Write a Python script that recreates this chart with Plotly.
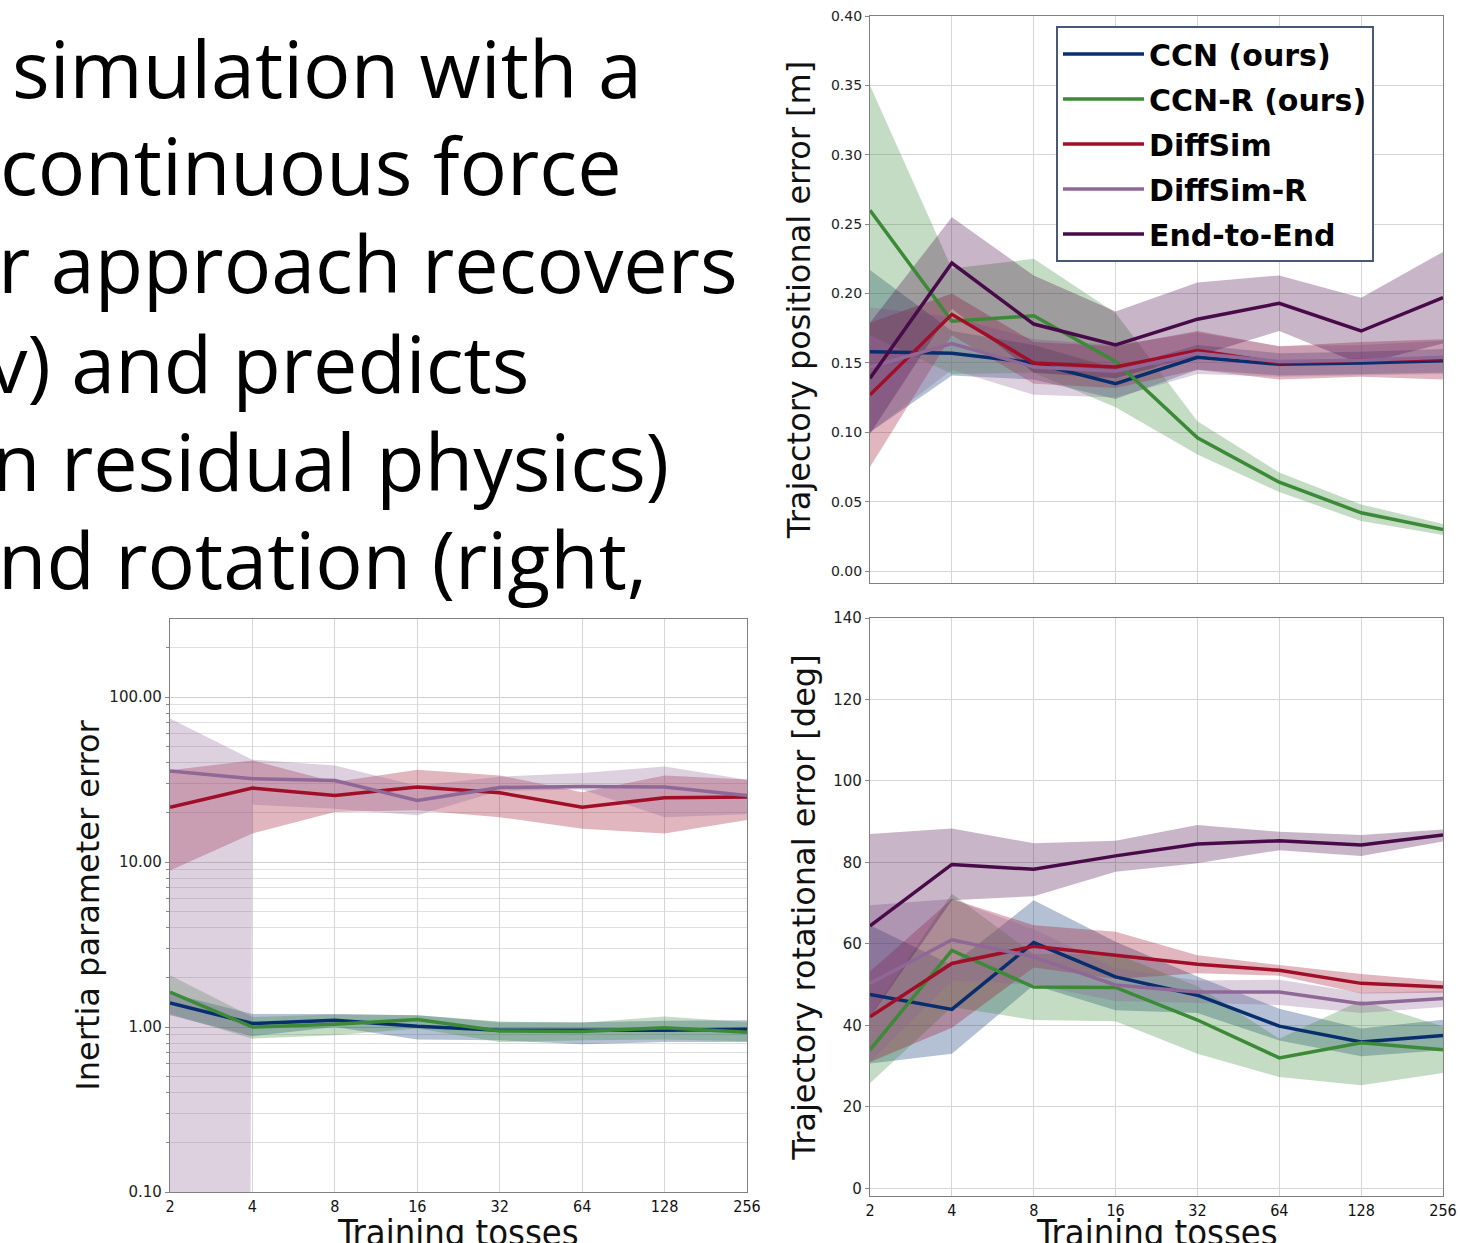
import plotly.graph_objects as go

# ---------------- data ----------------
tosses = [2, 4, 8, 16, 32, 64, 128, 256]
tick_labels = ["2", "4", "8", "16", "32", "64", "128", "256"]
methods = ["CCN (ours)", "CCN-R (ours)", "DiffSim", "DiffSim-R", "End-to-End"]

# Trajectory positional error [m]
pos_mean_ccn = [0.158, 0.157, 0.150, 0.135, 0.154, 0.149, 0.150, 0.1515]
pos_lo_ccn = [0.100, 0.141, 0.138, 0.124, 0.145, 0.141, 0.142, 0.143]
pos_hi_ccn = [0.217, 0.173, 0.163, 0.146, 0.163, 0.157, 0.158, 0.160]
pos_mean_ccnr = [0.260, 0.180, 0.184, 0.151, 0.096, 0.064, 0.042, 0.030]
pos_lo_ccnr = [0.170, 0.142, 0.143, 0.118, 0.084, 0.057, 0.036, 0.026]
pos_hi_ccnr = [0.350, 0.218, 0.225, 0.186, 0.108, 0.071, 0.048, 0.034]
pos_mean_diff = [0.127, 0.185, 0.150, 0.147, 0.159, 0.150, 0.152, 0.153]
pos_lo_diff = [0.075, 0.170, 0.135, 0.132, 0.145, 0.138, 0.140, 0.138]
pos_hi_diff = [0.179, 0.200, 0.165, 0.162, 0.173, 0.162, 0.165, 0.167]
pos_mean_diffr = [0.147, 0.164, 0.147, 0.144, 0.157, 0.151, 0.152, 0.154]
pos_lo_diffr = [0.100, 0.145, 0.127, 0.125, 0.142, 0.140, 0.141, 0.142]
pos_hi_diffr = [0.190, 0.183, 0.167, 0.163, 0.172, 0.162, 0.163, 0.166]
pos_mean_e2e = [0.139, 0.222, 0.178, 0.163, 0.1815, 0.193, 0.173, 0.197]
pos_lo_e2e = [0.099, 0.189, 0.143, 0.139, 0.155, 0.173, 0.149, 0.164]
pos_hi_e2e = [0.179, 0.255, 0.213, 0.187, 0.208, 0.213, 0.197, 0.230]

# Trajectory rotational error [deg]
rot_mean_ccn = [47.6, 43.9, 60.3, 51.9, 47.4, 39.8, 35.9, 37.5]
rot_lo_ccn = [30.6, 33.0, 49.9, 43.7, 43.0, 36.3, 32.4, 33.9]
rot_hi_ccn = [64.6, 54.8, 70.7, 60.5, 52.0, 44.1, 39.2, 41.4]
rot_mean_ccnr = [34.0, 58.4, 49.4, 49.3, 41.3, 32.0, 35.7, 34.0]
rot_lo_ccnr = [25.8, 44.5, 41.3, 41.0, 33.0, 27.3, 25.3, 28.3]
rot_hi_ccnr = [42.2, 72.3, 57.5, 57.6, 49.6, 36.7, 46.1, 39.7]
rot_mean_diff = [42.1, 55.2, 59.4, 57.2, 55.0, 53.5, 50.3, 49.4]
rot_lo_diff = [31.0, 39.4, 54.2, 51.4, 52.8, 52.2, 47.8, 48.0]
rot_hi_diff = [53.2, 71.0, 64.6, 63.0, 57.2, 54.8, 52.6, 50.9]
rot_mean_diffr = [50.3, 61.0, 56.8, 49.9, 48.2, 48.2, 45.3, 46.6]
rot_lo_diffr = [31.0, 51.0, 50.0, 46.0, 45.5, 45.0, 43.0, 44.5]
rot_hi_diffr = [69.5, 71.0, 63.6, 54.0, 51.0, 51.2, 48.0, 48.5]
rot_mean_e2e = [64.4, 79.5, 78.3, 81.6, 84.5, 85.3, 84.3, 86.7]
rot_lo_e2e = [42.0, 70.7, 71.7, 77.7, 79.8, 83.0, 81.6, 85.1]
rot_hi_e2e = [87.0, 88.3, 84.7, 85.3, 89.2, 87.5, 86.7, 88.1]

# Inertia parameter error (log scale); End-to-End has no inertia estimate
in_mean_ccn = [1.40, 1.05, 1.10, 1.01, 0.955, 0.955, 0.955, 0.97]
in_lo_ccn = [1.18, 0.88, 1.00, 0.84, 0.83, 0.785, 0.81, 0.81]
in_hi_ccn = [1.60, 1.20, 1.20, 1.18, 1.07, 1.07, 1.09, 1.10]
in_mean_ccnr = [1.63, 1.00, 1.04, 1.11, 0.946, 0.94, 0.99, 0.93]
in_lo_ccnr = [1.20, 0.85, 0.89, 0.98, 0.81, 0.83, 0.84, 0.82]
in_hi_ccnr = [2.06, 1.15, 1.19, 1.18, 1.08, 1.06, 1.16, 1.07]
in_mean_diff = [21.5, 28.1, 25.3, 28.5, 26.3, 21.5, 24.5, 24.8]
in_lo_diff = [8.9, 14.9, 20.1, 20.6, 18.7, 15.9, 14.9, 18.0]
in_hi_diff = [36.0, 41.3, 30.5, 36.3, 33.5, 26.5, 33.5, 31.6]
in_mean_diffr = [35.6, 32.0, 31.2, 23.6, 28.3, 28.7, 28.5, 25.3]
in_lo_diffr = [-2.8, 22.3, 21.0, 19.2, 27.0, 27.5, 18.7, 19.5]
in_hi_diffr = [74.0, 41.7, 38.5, 29.0, 32.9, 34.6, 37.9, 31.5]

pos_y_ticks = [0.0, 0.05, 0.10, 0.15, 0.20, 0.25, 0.30, 0.35, 0.40]
rot_y_ticks = [0, 20, 40, 60, 80, 100, 120, 140]
in_y_ticks = [0.1, 1, 10, 100]
in_y_labels = ["0.10", "1.00", "10.00", "100.00"]

x_title = "Training tosses"
text_lines = ["simulation with a", "continuous force", "r approach recovers",
              "v) and predicts", "n residual physics)", "nd rotation (right,"]

# ---------------- style ----------------
colors = {
    "CCN (ours)": (8, 46, 110),
    "CCN-R (ours)": (60, 138, 56),
    "DiffSim": (160, 14, 40),
    "DiffSim-R": (143, 104, 152),
    "End-to-End": (72, 10, 72),
}
def rgb(c, a=None):
    return f"rgb{c}" if a is None else f"rgba({c[0]},{c[1]},{c[2]},{a})"

W = 1460
H = 1300  # figure slightly taller than the 1243 px view; the bottom is cropped like the source
def px_x(a, b):
    return [a / W, b / W]
def px_y(top, bottom):
    return [1 - bottom / H, 1 - top / H]

pos_data = {
    "CCN (ours)": (pos_mean_ccn, pos_lo_ccn, pos_hi_ccn),
    "CCN-R (ours)": (pos_mean_ccnr, pos_lo_ccnr, pos_hi_ccnr),
    "DiffSim": (pos_mean_diff, pos_lo_diff, pos_hi_diff),
    "DiffSim-R": (pos_mean_diffr, pos_lo_diffr, pos_hi_diffr),
    "End-to-End": (pos_mean_e2e, pos_lo_e2e, pos_hi_e2e),
}
rot_data = {
    "CCN (ours)": (rot_mean_ccn, rot_lo_ccn, rot_hi_ccn),
    "CCN-R (ours)": (rot_mean_ccnr, rot_lo_ccnr, rot_hi_ccnr),
    "DiffSim": (rot_mean_diff, rot_lo_diff, rot_hi_diff),
    "DiffSim-R": (rot_mean_diffr, rot_lo_diffr, rot_hi_diffr),
    "End-to-End": (rot_mean_e2e, rot_lo_e2e, rot_hi_e2e),
}
in_data = {
    "CCN (ours)": (in_mean_ccn, in_lo_ccn, in_hi_ccn),
    "CCN-R (ours)": (in_mean_ccnr, in_lo_ccnr, in_hi_ccnr),
    "DiffSim": (in_mean_diff, in_lo_diff, in_hi_diff),
    "DiffSim-R": (in_mean_diffr, in_lo_diffr, in_hi_diffr),
}

fig = go.Figure()

def add_panel(data, xa, ya, legend, log=False):
    for m, (mean, lo, hi) in data.items():
        if log:
            lo = [v if v > 0 else 1e-100 for v in lo]  # clip non-positive for log axis
        fig.add_trace(go.Scatter(
            x=tosses + tosses[::-1], y=hi + lo[::-1], fill="toself",
            fillcolor=rgb(colors[m], 0.3), line=dict(width=0),
            mode="lines", hoverinfo="skip", showlegend=False,
            xaxis=xa, yaxis=ya, legendgroup=m))
    for m, (mean, lo, hi) in data.items():
        fig.add_trace(go.Scatter(
            x=tosses, y=mean, mode="lines", name=m,
            line=dict(color=rgb(colors[m]), width=3.5),
            showlegend=legend, legendgroup=m, xaxis=xa, yaxis=ya))

add_panel(pos_data, "x2", "y2", True)
add_panel(rot_data, "x3", "y3", False)
add_panel(in_data, "x", "y", False, log=True)

grid = "#d6d6d6"
spine = "#808080"
tickfont = dict(family="DejaVu Sans", size=14, color="#222")
xtickfont = dict(family="DejaVu Sans Condensed, DejaVu Sans", size=16, color="#111")
titlefont = dict(family="DejaVu Sans", size=32, color="#111")
xtitlefont = dict(family="DejaVu Sans Condensed, DejaVu Sans", size=36, color="#111")

def xaxis_common(dom, anchor, labels=True):
    return dict(domain=dom, anchor=anchor, type="log", automargin=False,
                range=[0.30103, 2.40824], tickvals=tosses, ticktext=tick_labels,
                showticklabels=labels,
                showgrid=True, gridcolor=grid, gridwidth=1,
                showline=True, linecolor=spine, linewidth=1.3, mirror=True,
                ticks="", tickfont=xtickfont, zeroline=False)

minor_vals = []
for dec in [0.1, 1, 10, 100]:
    for k in range(2, 10):
        minor_vals.append(dec * k)

fig.update_layout(
    width=W, height=H, margin=dict(l=0, r=0, t=0, b=0, autoexpand=False),
    paper_bgcolor="white", plot_bgcolor="white",
    xaxis=xaxis_common(px_x(170, 747), "y"),
    yaxis=dict(domain=px_y(619, 1192), anchor="x", type="log", automargin=False,
               range=[-1, 2.473], tickvals=in_y_ticks, ticktext=in_y_labels,
               showgrid=True, gridcolor="#cfcfcf", gridwidth=1,
               minor=dict(tickvals=minor_vals, showgrid=True, gridcolor="#dedede",
                          ticks="outside", ticklen=3, tickcolor="#888"),
               showline=True, linecolor=spine, linewidth=1.3, mirror=True,
               ticks="outside", ticklen=4, tickcolor="#888",
               tickfont=dict(family="DejaVu Sans", size=15, color="#222"),
               title=dict(text="Inertia parameter error", font=titlefont, standoff=0),
               zeroline=False),
    xaxis2=xaxis_common(px_x(870, 1443), "y2", labels=False),
    yaxis2=dict(domain=px_y(16, 583), anchor="x2", automargin=False,
                range=[-0.0086, 0.40], tickvals=pos_y_ticks,
                tickformat=".2f",
                showgrid=True, gridcolor=grid, gridwidth=1,
                showline=True, linecolor=spine, linewidth=1.3, mirror=True,
                ticks="outside", ticklen=4, tickcolor="#888",
                tickfont=tickfont,
                title=dict(text="Trajectory positional error [m]", font=titlefont, standoff=10),
                zeroline=False),
    xaxis3=xaxis_common(px_x(870, 1443), "y3"),
    yaxis3=dict(domain=px_y(618, 1196), anchor="x3", automargin=False,
                range=[-1.9, 140], tickvals=rot_y_ticks,
                showgrid=True, gridcolor=grid, gridwidth=1,
                showline=True, linecolor=spine, linewidth=1.3, mirror=True,
                ticks="outside", ticklen=4, tickcolor="#888",
                tickfont=dict(family="DejaVu Sans", size=15, color="#222"),
                title=dict(text="Trajectory rotational error [deg]", font=titlefont, standoff=8),
                zeroline=False),
    legend=dict(x=1056 / W, y=1 - 26 / H, xanchor="left", yanchor="top",
                bgcolor="white", bordercolor="#4a5878", borderwidth=2,
                font=dict(family="DejaVu Sans", size=30, color="#000", weight="bold"),
                tracegroupgap=3, itemwidth=81),
    showlegend=True,
)

# x-axis titles (cropped at the bottom edge as in the source)
for xc in [458, 1157]:
    fig.add_annotation(text=x_title, xref="paper", yref="paper", x=xc / W, y=1 - 1210 / H,
                       xanchor="center", yanchor="top", showarrow=False, font=xtitlefont)

# paragraph text (cropped slide text at top-left)
text_x = [10, -2, -4, -14, -10, -4]
text_y = [68, 164, 262, 362, 460, 558]
for t, xx, yy in zip(text_lines, text_x, text_y):
    fig.add_annotation(text=t, xref="paper", yref="paper", x=xx / W, y=1 - yy / H,
                       xanchor="left", yanchor="middle", showarrow=False,
                       font=dict(family="Open Sans", size=79, color="#000"))

fig.write_html("out.html", config={"displayModeBar": False},
               post_script="document.body.style.margin='0';document.body.style.overflow='hidden';")
